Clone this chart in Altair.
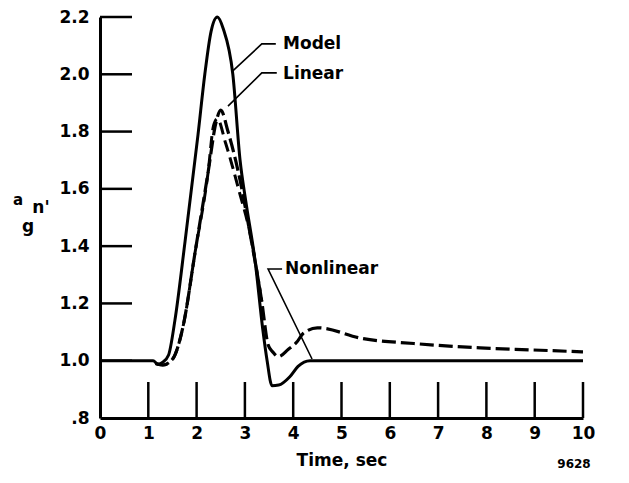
import altair as alt
import pandas as pd

# ---- data ----
model_t = [0, 1.1, 1.2, 1.3, 1.42, 1.55, 1.76, 2.03, 2.17, 2.3, 2.43, 2.55, 2.75, 2.9, 3.02, 3.21, 3.37, 3.46, 3.56, 3.7, 3.93, 4.1, 4.35, 5, 10]
model_v = [1.0, 1.0, 0.988, 0.995, 1.02, 1.14, 1.415, 1.79, 2.0, 2.15, 2.2, 2.16, 2.0, 1.70, 1.555, 1.35, 1.11, 1.0, 0.913, 0.915, 0.944, 0.98, 1.0, 1.0, 1.0]

nonlin_t = [1.15, 1.3, 1.5, 1.72, 1.97, 2.24, 2.4, 2.5, 2.65, 2.9, 3.1, 3.35, 3.48, 3.58, 3.69, 3.9, 4.08, 4.2, 4.5, 5.45, 6.5, 7.87, 8.9, 10]
nonlin_v = [0.99, 0.985, 1.005, 1.12, 1.38, 1.66, 1.83, 1.875, 1.80, 1.63, 1.45, 1.206, 1.056, 1.03, 1.014, 1.04, 1.066, 1.094, 1.115, 1.077, 1.06, 1.045, 1.038, 1.031]

linear_t = [1.15, 1.3, 1.5, 1.72, 1.97, 2.24, 2.35, 2.43, 2.6, 2.9, 3.1, 3.35]
linear_v = [0.99, 0.985, 1.005, 1.12, 1.38, 1.66, 1.82, 1.845, 1.76, 1.58, 1.45, 1.206]

x_ticks = [1, 2, 3, 4, 5, 6, 7, 8, 9, 10]
y_ticks = [1.0, 1.2, 1.4, 1.6, 1.8, 2.0, 2.2]
x_labels = [0, 1, 2, 3, 4, 5, 6, 7, 8, 9, 10]
y_labels = [0.8, 1.0, 1.2, 1.4, 1.6, 1.8, 2.0, 2.2]

label_names = ["Model", "Linear", "Nonlinear"]
label_t = [3.79, 3.79, 3.83]
label_v = [2.106, 2.0, 1.32]

leader_name = ["Model"] * 3 + ["Linear"] * 3 + ["Nonlinear"] * 3
leader_t = [2.75, 3.35, 3.64, 2.65, 3.35, 3.66, 4.39, 3.48, 3.77]
leader_v = [2.012, 2.106, 2.106, 1.889, 2.005, 2.005, 1.006, 1.32, 1.32]

FONT = "DejaVu Sans"
W, H = 483, 401

xs = alt.Scale(domain=[0, 10], nice=False, zero=False)
ys = alt.Scale(domain=[0.8, 2.2], nice=False, zero=False)

df_model = pd.DataFrame({"t": model_t, "v": model_v})
df_nl = pd.DataFrame({"t": nonlin_t, "v": nonlin_v})
df_lin = pd.DataFrame({"t": linear_t, "v": linear_v})
df_xt = pd.DataFrame({"t": x_ticks})
df_yt = pd.DataFrame({"v": y_ticks})
df_lab = pd.DataFrame({"name": label_names, "t": label_t, "v": label_v})
df_lead = pd.DataFrame({"name": leader_name, "t": leader_t, "v": leader_v,
                        "o": list(range(len(leader_t)))})

x_axis = alt.Axis(values=x_labels, title="Time, sec", grid=False, ticks=False,
                  domainWidth=3, domainColor="black", labelPadding=7,
                  labelFont=FONT, labelFontWeight="bold", labelFontSize=17,
                  labelColor="black", titleFont=FONT, titleFontWeight="bold",
                  titleFontSize=17, titleColor="black", titlePadding=11,
                  labelFlush=False, format="d")
y_axis = alt.Axis(values=y_labels, title=None, grid=False, ticks=False,
                  domainWidth=3, domainColor="black", labelPadding=11,
                  labelFont=FONT, labelFontWeight="bold", labelFontSize=17,
                  labelColor="black", labelFlush=False,
                  labelExpr="datum.value < 0.9 ? '.8' : format(datum.value, '.1f')")

X = alt.X("t:Q", scale=xs, axis=x_axis, title="Time, sec")
Y = alt.Y("v:Q", scale=ys, axis=y_axis, title=None)

model = alt.Chart(df_model).mark_line(color="black", strokeWidth=3, interpolate="monotone").encode(x=X, y=Y)
nonlin = alt.Chart(df_nl).mark_line(color="black", strokeWidth=3.2, strokeDash=[14, 5],
                                    interpolate="monotone").encode(x=X, y=Y)
linear = alt.Chart(df_lin).mark_line(color="black", strokeWidth=3, strokeDash=[12, 6],
                                     interpolate="monotone").encode(x=X, y=Y)

xtick = alt.Chart(df_xt).mark_rule(color="black", strokeWidth=2.5).encode(
    x=X, y=alt.value(H), y2=alt.value(H - 36))
ytick = alt.Chart(df_yt).mark_rule(color="black", strokeWidth=2.5).encode(
    y=Y, x=alt.value(0), x2=alt.value(32))

leaders = alt.Chart(df_lead).mark_line(color="black", strokeWidth=1.6).encode(
    x=X, y=Y, detail="name:N", order="o:Q")
labels = alt.Chart(df_lab).mark_text(align="left", baseline="middle", font=FONT,
                                     fontWeight="bold", fontSize=17, color="black").encode(
    x=X, y=Y, text="name:N")

ylab_a = alt.Chart(pd.DataFrame({"txt": ["a"]})).mark_text(
    font=FONT, fontWeight="bold", fontSize=15, color="black").encode(
    text="txt:N", x=alt.value(-82), y=alt.value(183))
ylab_n = alt.Chart(pd.DataFrame({"txt": ["n'"]})).mark_text(
    font=FONT, fontWeight="bold", fontSize=17, color="black").encode(
    text="txt:N", x=alt.value(-59), y=alt.value(191))
ylab_g = alt.Chart(pd.DataFrame({"txt": ["g"]})).mark_text(
    font=FONT, fontWeight="bold", fontSize=17, color="black").encode(
    text="txt:N", x=alt.value(-72), y=alt.value(210))
code = alt.Chart(pd.DataFrame({"txt": ["9628"]})).mark_text(
    font=FONT, fontWeight="bold", fontSize=12, color="black").encode(
    text="txt:N", x=alt.value(474), y=alt.value(447))

chart = alt.layer(model, linear, nonlin, xtick, ytick, leaders, labels,
                  ylab_a, ylab_n, ylab_g, code).properties(
    width=W, height=H, autosize=alt.AutoSizeParams(type="none"),
    padding={"left": 92, "top": 9, "right": 28, "bottom": 56},
    background="white"
).configure_view(stroke=None)

chart.save("out.html", embed_options={"renderer": "svg", "actions": False})
